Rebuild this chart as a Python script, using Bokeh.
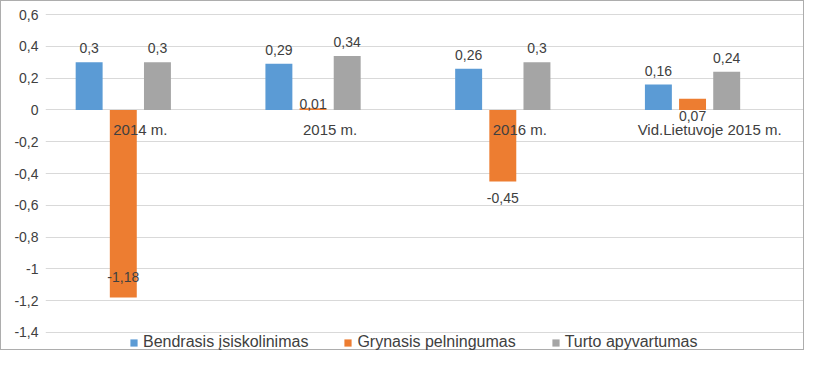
from bokeh.plotting import figure
from bokeh.models import ColumnDataSource, Legend, LegendItem, FactorRange, Range1d
from bokeh.transform import dodge
from bokeh.core.properties import value
from bokeh.embed import file_html
from bokeh.resources import INLINE

categories = ["2014 m.", "2015 m.", "2016 m.", "Vid.Lietuvoje 2015 m."]
series_names = ["Bendrasis įsiskolinimas", "Grynasis pelningumas", "Turto apyvartumas"]
bendrasis = [0.3, 0.29, 0.26, 0.16]
grynasis = [-1.18, 0.01, -0.45, 0.07]
turto = [0.3, 0.34, 0.3, 0.24]
y_ticks = [-1.4, -1.2, -1.0, -0.8, -0.6, -0.4, -0.2, 0.0, 0.2, 0.4, 0.6]
y_tick_labels = ["-1,4", "-1,2", "-1", "-0,8", "-0,6", "-0,4", "-0,2", "0", "0,2", "0,4", "0,6"]

# label pixel offsets (style) for the orange series labels
grynasis_label_dy = [-20, -4, 17, 17]

colors = ["#5B9BD5", "#ED7D31", "#A5A5A5"]
FONT = "Liberation Sans"
TXT = "#404040"


def fmt(v):
    return str(v).replace(".", ",")


source = ColumnDataSource(dict(
    cat=categories,
    b=bendrasis, g=grynasis, t=turto,
    bl=[fmt(v) for v in bendrasis],
    gl=[fmt(v) for v in grynasis],
    tl=[fmt(v) for v in turto],
    gdy=grynasis_label_dy,
    zero=[0] * len(categories),
))

# plot frame reaches the bottom of the canvas so the legend can sit inside it
p = figure(width=804, height=350, x_range=FactorRange(*categories, range_padding=0),
           y_range=Range1d(-1.52, 0.607), output_backend="svg", toolbar_location=None,
           min_border_left=44, min_border_right=1,
           min_border_top=12, min_border_bottom=0,
           styles={"border": "1px solid #ADADAD", "box-sizing": "border-box"})
p.xaxis.visible = False

offsets = [-0.27, -0.09, 0.09]
cols = ["b", "g", "t"]
renderers = []
for off, c, col in zip(offsets, cols, colors):
    r = p.vbar(x=dodge("cat", off, range=p.x_range), top=c, width=0.142, source=source,
               fill_color=col, line_color=None)
    renderers.append(r)

common = dict(text_font=value(FONT), text_font_size="14px", text_color=TXT, text_align="center")
p.text(x=dodge("cat", offsets[0], range=p.x_range), y="b", text="bl", source=source,
       text_baseline="bottom", y_offset=-9, **common)
p.text(x=dodge("cat", offsets[2], range=p.x_range), y="t", text="tl", source=source,
       text_baseline="bottom", y_offset=-9, **common)
p.text(x=dodge("cat", offsets[1], range=p.x_range), y="g", text="gl", source=source,
       text_baseline="middle", y_offset="gdy", **common)
# category labels next to the zero line
cat_style = dict(common, text_font_size="15px")
p.text(x="cat", y="zero", text="cat", source=source, text_baseline="top", y_offset=11, **cat_style)

p.yaxis.ticker = y_ticks
p.yaxis.major_label_overrides = {t: l for t, l in zip(y_ticks, y_tick_labels)}
p.yaxis.axis_line_color = None
p.yaxis.major_tick_line_color = None
p.yaxis.minor_tick_line_color = None
p.yaxis.major_tick_out = 0
p.yaxis.major_label_standoff = 7
p.yaxis.major_label_text_font = FONT
p.yaxis.major_label_text_font_size = "14px"
p.yaxis.major_label_text_color = TXT

p.ygrid.ticker = y_ticks
p.ygrid.grid_line_color = "#D9D9D9"
p.xgrid.visible = False
p.outline_line_color = None
p.background_fill_color = "white"
p.border_fill_color = "white"

legend = Legend(items=[LegendItem(label=n, renderers=[r]) for n, r in zip(series_names, renderers)],
                orientation="horizontal", location=(84, 0), border_line_color=None,
                glyph_width=9, glyph_height=9, label_standoff=5, spacing=35,
                label_text_font=FONT, label_text_font_size="16px", label_text_color=TXT,
                label_height=14, padding=0, margin=0, background_fill_alpha=0)
p.add_layout(legend)

open("out.html", "w").write(file_html(p, INLINE))
